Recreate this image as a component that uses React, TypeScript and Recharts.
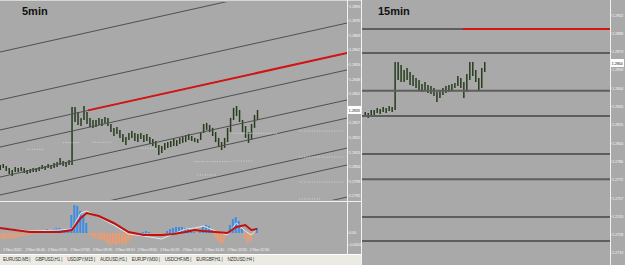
import { ComposedChart, Bar, Line, XAxis, YAxis, ReferenceLine, Cell } from "recharts";

const PANEL_GRAY = "#a9a9a9";
const AXIS_WHITE = "#f2f2f2";
const CANDLE = "#263c1d";
const CHANNEL = "#505050";
const LEVEL = "#5e5e5e";
const RED = "#d41414";
const HIST_UP = "#3b8de6";
const HIST_DOWN = "#f29a6c";
const SMALL_FONT = "'Liberation Sans', Arial, sans-serif";

// 5min candles, one per bar index 0..86
const leftHigh = [
  1.28068, 1.28073, 1.28063, 1.28054, 1.28044, 1.28058, 1.28054, 1.28058, 1.28054, 1.28044,
  1.28049, 1.28054, 1.28054, 1.28058, 1.28068, 1.28063, 1.28073, 1.28068, 1.28078, 1.28082,
  1.28102, 1.28087, 1.28082, 1.28092, 1.28346, 1.28346, 1.28322, 1.28294, 1.28351, 1.28322,
  1.28294, 1.28284, 1.28284, 1.28294, 1.28289, 1.28298, 1.28294, 1.28265, 1.28246, 1.2825,
  1.28236, 1.28217, 1.28202, 1.28222, 1.28231, 1.28222, 1.28217, 1.28222, 1.28212, 1.28217,
  1.28202, 1.28193, 1.28183, 1.28164, 1.28159, 1.28174, 1.28178, 1.28183, 1.28193, 1.28188,
  1.28198, 1.28202, 1.28212, 1.28217, 1.28207, 1.28198, 1.28193, 1.28222, 1.28265, 1.2827,
  1.2826, 1.28246, 1.28226, 1.28198, 1.28178, 1.28198, 1.28246, 1.28294, 1.28342, 1.28351,
  1.28332, 1.28284, 1.28255, 1.28226, 1.28265, 1.28308, 1.28332,
];
const leftLow = [
  1.28044, 1.28054, 1.28039, 1.28025, 1.28015, 1.28034, 1.28034, 1.28039, 1.2803, 1.28025,
  1.2803, 1.28034, 1.28034, 1.28039, 1.28049, 1.28044, 1.28054, 1.28049, 1.28054, 1.28058,
  1.28068, 1.28063, 1.28058, 1.28068, 1.28068, 1.28274, 1.2826, 1.28255, 1.28284, 1.28265,
  1.2825, 1.28246, 1.2825, 1.2826, 1.28255, 1.2827, 1.28255, 1.28226, 1.28207, 1.28217,
  1.28198, 1.28178, 1.28164, 1.28188, 1.28198, 1.28183, 1.28178, 1.28193, 1.28178, 1.28183,
  1.28169, 1.28159, 1.2815, 1.28116, 1.28126, 1.2814, 1.2815, 1.28154, 1.28159, 1.28159,
  1.28169, 1.28174, 1.28178, 1.28188, 1.28183, 1.28178, 1.28174, 1.28188, 1.28222, 1.28236,
  1.28226, 1.28207, 1.28178, 1.28154, 1.2814, 1.2815, 1.28178, 1.28226, 1.28284, 1.28303,
  1.28274, 1.28226, 1.28198, 1.28174, 1.28188, 1.28246, 1.28284,
];

// parallel channel lines: price at the left edge (index 0) and right edge (index 116)
const chanStart = [1.2861, 1.2838, 1.28236, 1.28154, 1.2801, 1.27924, 1.2778, 1.27698, 1.27544];
const chanEnd = [1.2898, 1.28749, 1.28605, 1.28524, 1.2838, 1.28293, 1.28149, 1.28068, 1.27914];
const redLeftFrom = { i: 29.4, p: 1.2833 };
const redLeftTo = { i: 116, p: 1.28605 };
// short dotted price marks: level, first and last bar index
const dotLevels = [1.28175, 1.28143, 1.28177, 1.28148, 1.28084, 1.2822, 1.2802, 1.28087, 1.28231, 1.28106, 1.27986, 1.27905];
const dotFrom = [21, 9, 31, 46.8, 65, 78, 66, 78, 100, 100, 100, 100];
const dotTo = [26.7, 14.4, 37.5, 52.5, 77, 92.6, 72.5, 84.6, 114.7, 114.7, 114.7, 107];
const leftTicks = [
  1.2883, 1.2876, 1.2869, 1.2862, 1.2855, 1.2848, 1.2841, 1.2827, 1.282, 1.2813, 1.2806,
  1.2799, 1.2792,
];
const leftLast = 1.28332;

// MACD histogram per bar
const macdHist = [
  -0.00005, -0.00006, -0.00006, -0.00005, -0.00006, -0.00005, -0.00004, -0.00004, -0.00003, -0.00002,
  -0.00002, -0.00001, -0.00001, 0.00002, 0.00003, 0.00003, 0.00004, 0.00003, 0.00004, 0.00005,
  0.00005, 0.00004, 0.00004, 0.00003, 0.00018, 0.00028, 0.00027, 0.00022, 0.00018, 0.0001,
  -0.00002, -0.00004, -0.00005, -0.00006, -0.00007, -0.00008, -0.0001, -0.00012, -0.00011, -0.00012,
  -0.0001, -0.00011, -0.00012, -0.00009, -0.00006, -0.00003, -0.00002, -0.00001, 0.00001, 0.00002,
  0.00001, -0.00001, -0.00002, -0.00003, -0.00002, -0.00001, 0.00002, 0.00004, 0.00005, 0.00006,
  0.00006, 0.00006, 0.00005, 0.00005, 0.00003, 0.00001, -0.00001, 0.00002, 0.00006, 0.00008,
  0.00007, 0.00003, -0.00004, -0.00008, -0.00011, -0.00009, -0.00002, 0.00008, 0.00014, 0.00016,
  0.00012, 0.00004, -0.00006, -0.0001, -0.00008, -0.00002, 0.00005,
];
const sigIdx = [0, 10, 20, 24, 27, 29, 33, 38, 43, 48, 54, 58, 62, 65, 68, 72, 76, 79, 82, 84, 86];
const sigVals = [
  0.00005, 0.00001, 0.00001, 0.00003, 0.00015, 0.0002, 0.00017, 0.0001, 0.00001, -0.00002, -0.00002,
  -0.00001, 0.00001, 0.00003, 0.00002, 0.00001, 0, 0.00006, 0.00008, 0.00003, 0.00004,
];
const mainVals = [
  0.00005, 0.00002, 0.00003, 0.00004, 0.0002, 0.00022, 0.00016, 0.00008, -0.00001, -0.00003, -0.00006,
  -0.00001, 0.00004, 0.00005, 0.00007, 0.00002, -0.00002, 0.0001, 0.00002, -0.00002, 0.00004,
];
const macdTicks = [0.00028, 0, -0.00012];
const dateIdx = [1, 8.5, 16, 23.5, 31, 38.5, 46, 53.5, 61, 68.5, 76, 83.5];
const dateLabels = [
  "2 Nov 2012", "2 Nov 06:40", "2 Nov 07:20", "2 Nov 07:55", "2 Nov 08:35", "2 Nov 09:10",
  "2 Nov 09:50", "2 Nov 10:25", "2 Nov 11:05", "2 Nov 11:40", "2 Nov 12:20", "2 Nov 12:55",
];

// 15min candles, bar index 1..41
const rightHigh = [
  1.28252, 1.28244, 1.28268, 1.28268, 1.28284, 1.28276, 1.28292, 1.28284, 1.28299, 1.28292,
  1.28648, 1.28648, 1.28624, 1.28585, 1.286, 1.28569, 1.28545, 1.28521, 1.28505, 1.28474,
  1.2849, 1.28466, 1.28458, 1.28442, 1.2841, 1.28426, 1.28442, 1.28458, 1.28466, 1.28474,
  1.28482, 1.28537, 1.28521, 1.2849, 1.28553, 1.28648, 1.28648, 1.28585, 1.28521, 1.286,
  1.28648,
];
const rightLow = [
  1.28212, 1.28204, 1.2822, 1.28228, 1.28244, 1.28236, 1.28252, 1.28244, 1.2826, 1.28252,
  1.28268, 1.28505, 1.2849, 1.2849, 1.28505, 1.28466, 1.28458, 1.28442, 1.28426, 1.2841,
  1.28426, 1.28402, 1.28395, 1.28379, 1.28331, 1.28363, 1.28387, 1.28402, 1.2841, 1.28426,
  1.28442, 1.28458, 1.28442, 1.28363, 1.2841, 1.28505, 1.28537, 1.2849, 1.28418, 1.28442,
  1.28569,
];
const rightLevels = [1.2891, 1.2872, 1.2842, 1.2822, 1.2792, 1.2772, 1.2742, 1.2723];
const redRightFrom = 33.8;
const rightTicks = [
  1.2902, 1.28875, 1.2873, 1.28585, 1.2844, 1.28295, 1.2815, 1.28005, 1.2786, 1.27715, 1.2757,
  1.27425, 1.2728, 1.27135,
];
const rightLast = 1.2864;

const tabs = ["EURUSD,M5", "GBPUSD,H1", "USDJPY,M15", "AUDUSD,H1", "EURJPY,M30", "USDCHF,M5", "EURGBP,H1", "NZDUSD,H4"];

function PriceTag({ viewBox, text }: any) {
  if (!viewBox) return null;
  const x = viewBox.x + viewBox.width;
  const y = viewBox.y;
  return (
    <g>
      <rect x={x + 1} y={y - 4} width={13} height={8} fill="#ffffff" />
      <text x={x + 1.5} y={y + 1.8} fontSize={4.2} letterSpacing={-0.3} fontFamily={SMALL_FONT} fill="#333">
        {text}
      </text>
    </g>
  );
}

const tickStyle = { fill: "#f0f0f0", fontSize: 4.2, letterSpacing: -0.3, fontFamily: SMALL_FONT };

export default function App() {
  const leftRows = leftHigh.map((h, i) => ({ i, range: [leftLow[i], h] }));
  const histRows = macdHist.map((v, i) => ({ i, v }));
  const sigRows = sigIdx.map((i, k) => ({ i, sig: sigVals[k], main: mainVals[k] }));
  const rightRows = rightHigh.map((h, k) => ({ i: k + 1, range: [rightLow[k], h] }));

  return (
    <div
      style={{
        position: "absolute",
        left: 0,
        top: 0,
        width: 625,
        height: 265,
        overflow: "hidden",
        background: PANEL_GRAY,
        fontFamily: "'Liberation Sans', Arial, sans-serif",
      }}
    >
      {/* 5min main */}
      <div style={{ position: "absolute", left: 0, top: 2 }}>
        <ComposedChart width={361} height={198} data={leftRows} margin={{ top: 0, right: 0, left: 0, bottom: 0 }}>
          <XAxis type="number" dataKey="i" domain={[0, 116]} hide allowDataOverflow />
          <YAxis
            orientation="right"
            width={14}
            domain={[1.279, 1.2885]}
            ticks={leftTicks}
            allowDataOverflow
            axisLine={false}
            tickSize={1.5}
            tickMargin={0.5}
            tickLine={{ stroke: AXIS_WHITE }}
            tick={tickStyle}
            tickFormatter={(v) => v.toFixed(4)}
          />
          {chanStart.map((p, k) => (
            <ReferenceLine
              key={k}
              segment={[{ x: 0, y: p }, { x: 116, y: chanEnd[k] }]}
              stroke={CHANNEL}
              strokeWidth={1}
              ifOverflow="hidden"
            />
          ))}
          {dotLevels.map((p, k) => (
            <ReferenceLine
              key={"d" + k}
              segment={[{ x: dotFrom[k], y: p }, { x: dotTo[k], y: p }]}
              stroke="#d4d4d4"
              strokeWidth={1}
              strokeDasharray="1 1.5"
              ifOverflow="hidden"
            />
          ))}
          <ReferenceLine
            segment={[{ x: redLeftFrom.i, y: redLeftFrom.p }, { x: redLeftTo.i, y: redLeftTo.p }]}
            stroke={RED}
            strokeWidth={2}
            ifOverflow="hidden"
          />
          <Bar dataKey="range" barSize={1.5} fill={CANDLE} isAnimationActive={false} />
          <ReferenceLine y={leftLast} stroke="none" label={<PriceTag text={leftLast.toFixed(4)} />} />
        </ComposedChart>
      </div>

      {/* MACD */}
      <div style={{ position: "absolute", left: 0, top: 203 }}>
        <ComposedChart width={361} height={51} data={histRows} margin={{ top: 0, right: 0, left: 0, bottom: 0 }}>
          <XAxis
            type="number"
            dataKey="i"
            domain={[0, 116]}
            allowDataOverflow
            height={7}
            ticks={dateIdx}
            interval={0}
            axisLine={false}
            tickLine={false}
            tickSize={0}
            tickMargin={1}
            tick={{ fill: "#eeeeee", fontSize: 4.2, letterSpacing: -0.3, fontFamily: SMALL_FONT, textAnchor: "start" }}
            tickFormatter={(v) => dateLabels[dateIdx.indexOf(v)] ?? ""}
          />
          <YAxis
            orientation="right"
            width={14}
            domain={[-0.00014, 0.0003]}
            ticks={macdTicks}
            allowDataOverflow
            axisLine={false}
            tickSize={1.5}
            tickMargin={0.5}
            tickLine={{ stroke: AXIS_WHITE }}
            tick={tickStyle}
            tickFormatter={(v) => (v === 0 ? "0.00" : v.toFixed(4))}
          />
          <Bar dataKey="v" barSize={2} isAnimationActive={false}>
            {histRows.map((r) => (
              <Cell key={r.i} fill={r.v >= 0 ? HIST_UP : HIST_DOWN} />
            ))}
          </Bar>
          <Line data={sigRows} dataKey="main" stroke="#e6e6e6" strokeWidth={1} dot={false} isAnimationActive={false} />
          <Line data={sigRows} dataKey="sig" stroke="#c01010" strokeWidth={2} dot={false} isAnimationActive={false} />
        </ComposedChart>
      </div>

      {/* panel frames */}
      <div style={{ position: "absolute", left: 0, top: 0, width: 361, height: 1, background: "#d6d6d6" }} />
      <div style={{ position: "absolute", left: 347, top: 0, width: 1, height: 254, background: AXIS_WHITE }} />
      <div style={{ position: "absolute", left: 0, top: 201, width: 361, height: 1, background: AXIS_WHITE }} />

      {/* tab bar */}
      <div
        style={{
          position: "absolute",
          left: 0,
          top: 254,
          width: 361,
          height: 11,
          background: "#ecebe3",
          borderTop: "1px solid #ffffff",
          boxSizing: "border-box",
          fontSize: 4.6,
          letterSpacing: -0.2,
          lineHeight: "9px",
          color: "#333",
          whiteSpace: "nowrap",
          paddingLeft: 3,
        }}
      >
        {tabs.map((t) => (
          <span key={t} style={{ marginRight: 5 }}>
            {t} |
          </span>
        ))}
      </div>

      {/* 15min */}
      <div style={{ position: "absolute", left: 361, top: 0, width: 1, height: 265, background: AXIS_WHITE }} />
      <div style={{ position: "absolute", left: 362, top: 0, width: 263, height: 265, background: PANEL_GRAY }}>
        <ComposedChart width={263} height={265} data={rightRows} margin={{ top: 0, right: 0, left: 0, bottom: 0 }}>
          <XAxis type="number" dataKey="i" domain={[0, 83]} hide allowDataOverflow />
          <YAxis
            orientation="right"
            width={15}
            domain={[1.2704, 1.29139]}
            ticks={rightTicks}
            allowDataOverflow
            axisLine={false}
            tickSize={1.5}
            tickMargin={0.5}
            tickLine={{ stroke: AXIS_WHITE }}
            tick={tickStyle}
            tickFormatter={(v) => v.toFixed(4)}
          />
          {rightLevels.map((p) => (
            <ReferenceLine key={p} y={p} stroke={LEVEL} strokeWidth={2} />
          ))}
          <ReferenceLine
            segment={[{ x: redRightFrom, y: rightLevels[0] }, { x: 83, y: rightLevels[0] }]}
            stroke={RED}
            strokeWidth={2}
            ifOverflow="hidden"
          />
          <Bar dataKey="range" barSize={1.5} fill={CANDLE} isAnimationActive={false} />
          <ReferenceLine y={rightLast} stroke="none" label={<PriceTag text={rightLast.toFixed(4)} />} />
        </ComposedChart>
      </div>
      <div style={{ position: "absolute", left: 610, top: 0, width: 1, height: 265, background: AXIS_WHITE }} />

      <div style={{ position: "absolute", left: 22, top: 5, fontSize: 11, fontWeight: "bold", color: "#111" }}>5min</div>
      <div style={{ position: "absolute", left: 378, top: 5, fontSize: 11, fontWeight: "bold", color: "#111" }}>15min</div>
    </div>
  );
}
